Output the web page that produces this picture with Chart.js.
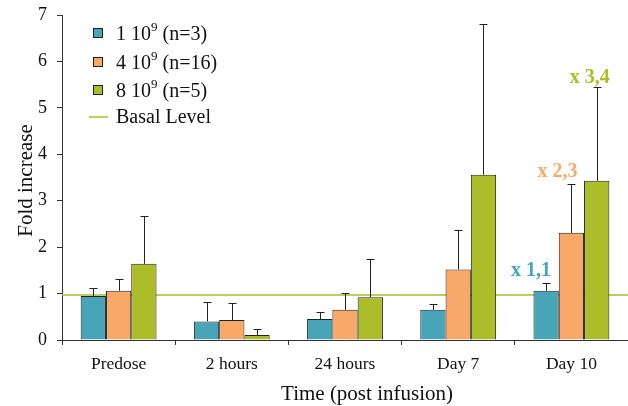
<!DOCTYPE html>
<html><head><meta charset="utf-8">
<script src="https://cdn.jsdelivr.net/npm/chart.js@4/dist/chart.umd.min.js"></script>
<style>html,body{margin:0;padding:0;background:#fff}#wrap{width:628px;height:406px}</style>
</head><body><div id="wrap"><canvas id="c" width="628" height="406"></canvas></div>
<script>
const categories = ["Predose", "2 hours", "24 hours", "Day 7", "Day 10"];
const seriesNames = ["1 10", "4 10", "8 10"];
const seriesN = [" (n=3)", " (n=16)", " (n=5)"];
const dose1 = [0.95, 0.40, 0.45, 0.65, 1.06];
const dose4 = [1.06, 0.43, 0.65, 1.52, 2.31];
const dose8 = [1.64, 0.11, 0.92, 3.56, 3.43];
const err1Top = [1.11, 0.81, 0.61, 0.77, 1.22];
const err4Top = [1.31, 0.79, 1.02, 2.37, 3.35];
const err8Top = [2.68, 0.23, 1.74, 6.80, 5.44];
const basalLevel = 0.97;
const yTicks = [0, 1, 2, 3, 4, 5, 6, 7];
const xTitle = "Time (post infusion)";
const yTitle = "Fold increase";
const annotations = [
  {series: 0, cat: 4, text: "x 1,1"},
  {series: 1, cat: 4, text: "x 2,3"},
  {series: 2, cat: 4, text: "x 3,4"}
];
const colors = ["#48a5b8", "#f8a967", "#abbd29"];
const FONT = "'Liberation Serif', 'Times New Roman', serif";
const errTops = [err1Top, err4Top, err8Top];

const basalPlugin = {
  id: 'basal',
  beforeDatasetsDraw(chart) {
    const {ctx, chartArea, scales} = chart;
    const y = scales.y.getPixelForValue(basalLevel);
    ctx.save();
    ctx.strokeStyle = '#abbd29'; ctx.lineWidth = 1.5;
    ctx.beginPath(); ctx.moveTo(chartArea.left, y); ctx.lineTo(chartArea.right, y); ctx.stroke();
    ctx.restore();
  }
};

const errPlugin = {
  id: 'errbars',
  afterDatasetsDraw(chart) {
    const {ctx, scales} = chart;
    ctx.save();
    ctx.strokeStyle = '#222'; ctx.lineWidth = 1;
    chart.data.datasets.forEach((ds, i) => {
      const meta = chart.getDatasetMeta(i);
      meta.data.forEach((bar, j) => {
        const top = Math.round(scales.y.getPixelForValue(errTops[i][j])) + 0.5;
        const x = Math.round(bar.x) + 0.5;
        ctx.beginPath();
        ctx.moveTo(x, bar.y); ctx.lineTo(x, top);
        ctx.moveTo(x - 4, top); ctx.lineTo(x + 4, top);
        ctx.stroke();
      });
    });
    ctx.font = "bold 20px " + FONT;
    ctx.textAlign = 'center'; ctx.textBaseline = 'middle';
    const offs = [[-15, -13], [-14, -13], [-7, -10]];
    annotations.forEach((a, k) => {
      const bar = chart.getDatasetMeta(a.series).data[a.cat];
      const yTop = scales.y.getPixelForValue(errTops[a.series][a.cat]);
      ctx.fillStyle = colors[a.series];
      ctx.fillText(a.text, bar.x + offs[k][0], yTop + offs[k][1]);
    });
    ctx.restore();
  }
};

const titlesPlugin = {
  id: 'titles',
  afterDraw(chart) {
    const {ctx, chartArea} = chart;
    ctx.save();
    ctx.fillStyle = '#111';
    ctx.font = "21px " + FONT;
    ctx.textAlign = 'center'; ctx.textBaseline = 'middle';
    ctx.fillText(xTitle, (chartArea.left + chartArea.right) / 2 + 22, chartArea.bottom + 54);
    ctx.translate(26, (chartArea.top + chartArea.bottom) / 2 + 3);
    ctx.rotate(-Math.PI / 2);
    ctx.fillText(yTitle, 0, 0);
    ctx.restore();
  }
};

const legendPlugin = {
  id: 'customLegend',
  afterDraw(chart) {
    const {ctx} = chart;
    ctx.save();
    const x0 = 93, rows = [33, 62, 90, 117];
    ctx.textBaseline = 'middle'; ctx.textAlign = 'left';
    for (let i = 0; i < 3; i++) {
      const y = rows[i];
      ctx.fillStyle = colors[i]; ctx.fillRect(x0, y - 5, 10, 10);
      ctx.strokeStyle = '#222'; ctx.lineWidth = 1; ctx.strokeRect(x0 + 0.5, y - 4.5, 9, 9);
      ctx.fillStyle = '#111';
      ctx.font = "20px " + FONT;
      let tx = 116;
      ctx.fillText(seriesNames[i], tx, y + 2);
      tx += ctx.measureText(seriesNames[i]).width;
      ctx.font = "13px " + FONT;
      ctx.fillText("9", tx, y - 5);
      tx += ctx.measureText("9").width;
      ctx.font = "20px " + FONT;
      ctx.fillText(seriesN[i], tx, y + 2);
    }
    const y = rows[3];
    ctx.strokeStyle = '#abbd29'; ctx.lineWidth = 1.5;
    ctx.beginPath(); ctx.moveTo(89, y); ctx.lineTo(108, y); ctx.stroke();
    ctx.fillStyle = '#111'; ctx.font = "20px " + FONT;
    ctx.fillText("Basal Level", 116, y + 1);
    ctx.restore();
  }
};

const mk = (label, data, i) => ({
  label, data, backgroundColor: colors[i], borderColor: '#222', borderWidth: 1,
  categoryPercentage: 0.67, barPercentage: 1.0
});

new Chart(document.getElementById('c'), {
  type: 'bar',
  data: {
    labels: categories,
    datasets: [mk(seriesNames[0] + "9" + seriesN[0], dose1, 0), mk(seriesNames[1] + "9" + seriesN[1], dose4, 1), mk(seriesNames[2] + "9" + seriesN[2], dose8, 2)]
  },
  options: {
    responsive: false, animation: false, devicePixelRatio: 1,
    layout: {padding: {top: 15, right: 0, left: 0, bottom: 0}},
    plugins: {legend: {display: false}, tooltip: {enabled: false}},
    scales: {
      x: {
        grid: {offset: true, drawOnChartArea: false, tickLength: 5, color: '#333'},
        border: {color: '#333', width: 1},
        ticks: {color: '#111', font: {family: FONT, size: 17.5}, padding: 9},
        afterFit(s) { s.height = 66; s.paddingLeft = 0; s.paddingRight = 0; }
      },
      y: {
        min: 0, max: 7,
        afterBuildTicks(s) { s.ticks = yTicks.map(v => ({value: v})); },
        grid: {drawOnChartArea: false, tickLength: 5, color: '#333'},
        border: {color: '#333', width: 1},
        ticks: {color: '#111', font: {family: FONT, size: 18}, padding: 10},
        afterFit(s) { s.width = 62; s.paddingTop = 0; s.paddingBottom = 0; }
      }
    }
  },
  plugins: [basalPlugin, errPlugin, titlesPlugin, legendPlugin]
});
</script></body></html>
